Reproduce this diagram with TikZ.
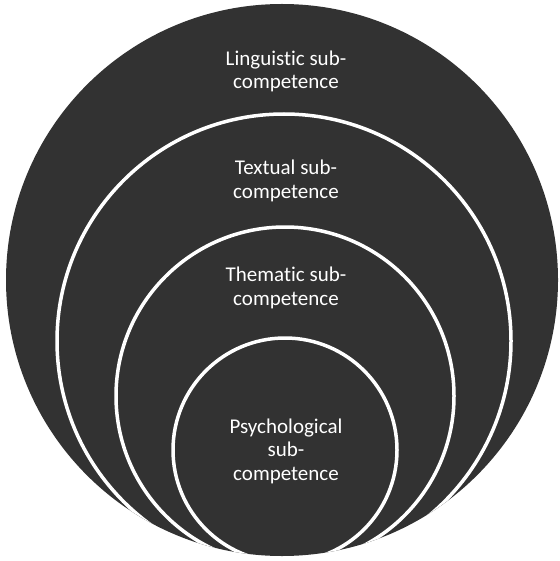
\documentclass[tikz,border=0pt]{standalone}
\usepackage{fontspec}
\setmainfont{Carlito}[Ligatures=NoCommon]
\definecolor{discfill}{RGB}{50,50,50}
\begin{document}
\begin{tikzpicture}[x=1pt,y=-1pt,
  ring/.style={circle, draw=white, line width=3.5pt, inner sep=0pt, outer sep=0pt},
  lab/.style={text=white, align=center, font=\fontsize{21}{23.5}\selectfont, inner sep=0pt, anchor=base}]
\useasboundingbox (0,0) rectangle (559,561);
\node[circle, fill=discfill, minimum size=552pt, inner sep=0pt] (outer) at (282,280) {};
\begin{scope}
  \clip (282,280) circle[radius=276pt];
  \node[ring, minimum size=454pt] (textual) at (284,341) {};
  \node[ring, minimum size=338pt] (thematic) at (285,396) {};
  \node[ring, minimum size=224pt] (psycho) at (285,450) {};
\end{scope}
\node[lab] (tling) at (286,89) {Linguistic sub-\\competence};
\node[lab] (ttext) at (286,198) {Textual sub-\\competence};
\node[lab] (tthem) at (286,305) {Thematic sub-\\competence};
\node[lab] (tpsy) at (286,480) {Psychological\\sub-\\competence};
\end{tikzpicture}
\end{document}
